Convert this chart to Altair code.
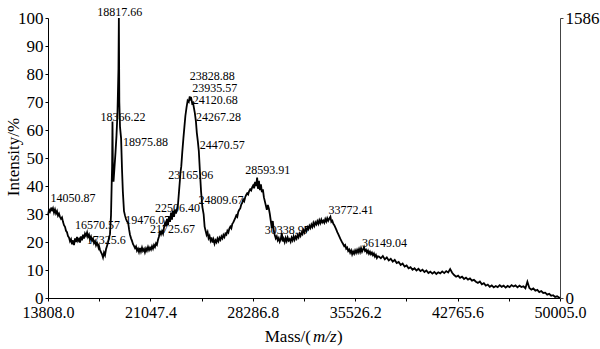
import altair as alt
import pandas as pd

# Mass spectrum: m/z and relative intensity (%)
mass = [
    13808, 13879, 13949, 14050.87, 14091, 14162, 14232, 14303, 14374, 14444,
    14515, 14586, 14656, 14727, 14798, 14868, 14939, 15010, 15081, 15151,
    15222, 15293, 15363, 15434, 15505, 15575, 15646, 15717, 15788, 15858,
    15929, 16000, 16070, 16141, 16212, 16282, 16353, 16424, 16495, 16570.57,
    16636, 16707, 16777, 16848, 16919, 16989, 17060, 17131, 17202, 17272,
    17325.6, 17380, 17414, 17484, 17555, 17626, 17696, 17767, 17838, 17909,
    17979, 18050, 18121, 18191, 18262, 18310, 18340, 18366.22, 18400, 18440,
    18500, 18580, 18650, 18720, 18790, 18817.66, 18850, 18900, 18975.88, 19040,
    19100, 19181, 19250, 19323, 19400, 19476.07, 19540, 19605, 19680, 19747,
    19820, 19888, 19960, 20030, 20100, 20171, 20240, 20312, 20380, 20454,
    20520, 20595, 20660, 20737, 20800, 20878, 20950, 21019, 21090, 21161,
    21230, 21302, 21370, 21444, 21510, 21585, 21650, 21725.67, 21800, 21868,
    21940, 22009, 22080, 22151, 22220, 22292, 22360, 22434, 22506.4, 22575,
    22640, 22716, 22790, 22858, 22930, 22999, 23070, 23140, 23165.96, 23230,
    23300, 23380, 23450, 23520, 23600, 23680, 23760, 23828.88, 23880, 23935.57,
    24000, 24060, 24120.68, 24190, 24267.28, 24330, 24400, 24470.57, 24550, 24630,
    24720, 24809.67, 24880, 24950, 25020, 25090, 25160, 25230, 25300, 25370,
    25440, 25510, 25580, 25650, 25720, 25790, 25860, 25930, 26000, 26070,
    26140, 26210, 26280, 26350, 26420, 26490, 26560, 26630, 26700, 26770,
    26840, 26910, 26980, 27050, 27120, 27190, 27260, 27330, 27400, 27470,
    27540, 27610, 27680, 27750, 27820, 27890, 27960, 28030, 28100, 28170,
    28240, 28310, 28380, 28450, 28520, 28593.91, 28650, 28720, 28790, 28860,
    28930, 29000, 29070, 29140, 29210, 29280, 29350, 29420, 29490, 29560,
    29630, 29700, 29770, 29840, 29910, 29980, 30050, 30120, 30190, 30260,
    30338.97, 30400, 30470, 30540, 30610, 30680, 30750, 30820, 30890, 30960,
    31030, 31100, 31170, 31240, 31310, 31380, 31450, 31520, 31590, 31660,
    31730, 31800, 31870, 31940, 32010, 32080, 32150, 32220, 32290, 32360,
    32430, 32500, 32570, 32640, 32710, 32780, 32850, 32920, 32990, 33060,
    33130, 33200, 33270, 33340, 33410, 33480, 33550, 33620, 33700, 33772.41,
    33840, 33910, 33980, 34050, 34120, 34190, 34260, 34330, 34400, 34470,
    34540, 34610, 34680, 34750, 34820, 34890, 34960, 35030, 35100, 35170,
    35240, 35310, 35380, 35450, 35520, 35590, 35660, 35730, 35800, 35870,
    35940, 36010, 36080, 36149.04, 36220, 36290, 36360, 36430, 36500, 36570,
    36640, 36710, 36780, 36850, 36920, 36990, 37060, 37130, 37200, 37340,
    37480, 37620, 37760, 37900, 38040, 38180, 38320, 38460, 38600, 38740,
    38880, 39020, 39160, 39300, 39440, 39580, 39720, 39860, 40000, 40140,
    40280, 40420, 40560, 40700, 40840, 40980, 41120, 41260, 41400, 41540,
    41680, 41820, 41960, 42100, 42240, 42380, 42520, 42660, 42800, 42940,
    43080, 43220, 43360, 43500, 43640, 43780, 43920, 44060, 44200, 44340,
    44480, 44620, 44760, 44900, 45040, 45180, 45320, 45460, 45600, 45740,
    45880, 46020, 46160, 46300, 46440, 46580, 46720, 46860, 47000, 47140,
    47280, 47420, 47560, 47700, 47840, 47980, 48120, 48260, 48400, 48540,
    48680, 48820, 48960, 49100, 49240, 49380, 49520, 49660, 49800, 49940,
    50005,
]

intensity = [
    29.5, 31.5, 30.8, 32.3, 31.0, 32.0, 30.5, 31.6, 30.2, 31.0,
    29.4, 30.1, 29.0, 28.3, 28.8, 27.2, 26.0, 25.4, 24.0, 23.5,
    22.1, 21.6, 20.3, 21.0, 19.2, 20.6, 18.9, 21.3, 20.0, 21.8,
    20.4, 21.1, 19.8, 22.0, 20.6, 22.6, 21.2, 23.0, 22.2, 23.4,
    21.8, 22.6, 21.0, 21.9, 20.5, 21.2, 19.6, 20.3, 18.8, 19.7,
    19.0, 18.0, 18.6, 17.2, 16.4, 15.6, 14.5, 16.2, 15.3, 17.4,
    18.6, 19.8, 21.5, 22.8, 29.5, 40.5, 47.0, 63.0, 44.0, 41.5,
    46.0, 52.0, 58.0, 66.0, 82.0, 100.0, 70.0, 61.0, 57.0, 46.0,
    38.0, 31.0, 29.5, 28.2, 27.3, 26.8, 24.5, 22.6, 21.3, 20.4,
    19.2, 18.6, 17.8, 18.4, 16.9, 17.6, 16.4, 17.9, 16.6, 18.0,
    16.8, 17.5, 16.3, 17.7, 16.9, 18.2, 17.1, 18.0, 17.3, 18.5,
    17.6, 18.9, 18.2, 19.5, 19.0, 20.8, 21.9, 24.0, 22.8, 23.9,
    23.0, 25.2, 26.8, 25.6, 28.3, 26.0, 29.1, 27.2, 30.5, 28.0,
    31.2, 29.0, 31.6, 30.2, 31.8, 33.5, 38.0, 42.5, 44.5, 47.0,
    52.0, 57.0, 61.0, 65.0, 68.0, 70.5, 70.0, 72.0, 71.0, 71.3,
    69.5, 69.8, 68.0, 66.0, 63.0, 59.0, 56.0, 52.5, 45.0, 38.0,
    32.5, 30.0, 25.5, 24.0, 22.6, 23.5, 21.4, 22.2, 20.5, 21.6,
    19.8, 20.9, 19.4, 20.6, 19.9, 21.2, 20.3, 21.5, 20.8, 22.0,
    21.3, 22.5, 21.8, 23.0, 22.6, 24.0, 23.4, 24.8, 25.5, 24.9,
    26.5, 27.0, 27.8, 28.6, 29.5, 29.0, 30.8, 31.5, 32.0, 33.4,
    34.0, 35.2, 34.6, 36.0, 36.8, 37.4, 37.0, 38.2, 38.8, 38.4,
    39.5, 40.2, 39.2, 41.5, 40.0, 43.0, 39.0, 41.8, 38.5, 40.6,
    37.8, 38.8, 36.0, 34.5, 33.0, 31.5, 33.2, 32.0, 30.0, 27.5,
    25.0, 27.5, 24.0, 22.5, 21.3, 22.0, 20.6, 21.4, 20.1, 21.0,
    23.2, 20.2, 21.2, 20.0, 21.4, 20.3, 21.6, 20.5, 21.0, 20.1,
    21.5, 20.6, 22.0, 20.8, 21.9, 21.2, 22.5, 21.7, 23.0, 22.2,
    23.4, 22.8, 24.2, 23.4, 24.8, 24.0, 25.3, 24.6, 25.8, 25.0,
    26.2, 25.4, 26.8, 25.8, 27.0, 26.3, 27.4, 26.5, 27.8, 26.8,
    28.0, 27.0, 27.6, 26.9, 28.2, 27.3, 28.5, 27.6, 28.4, 29.0,
    27.2, 27.6, 26.5, 26.0, 25.2, 24.4, 23.5, 22.8, 22.0, 21.2,
    20.5, 19.8, 19.2, 18.5, 18.9, 17.6, 18.0, 16.8, 17.3, 16.2,
    17.0, 15.6, 16.6, 15.8, 17.0, 16.1, 17.2, 16.3, 17.5, 16.4,
    17.8, 16.6, 17.4, 18.2, 16.8, 17.2, 16.2, 16.9, 15.8, 16.5,
    15.6, 16.2, 15.3, 15.9, 14.8, 15.4, 14.3, 14.9, 14.8, 14.2,
    15.0, 13.8, 14.5, 13.4, 14.0, 13.0, 13.6, 12.5, 12.9, 11.8,
    12.3, 11.2, 11.6, 10.6, 11.0, 10.1, 10.6, 9.8, 10.4, 9.6,
    10.1, 9.3, 9.8, 8.9, 9.4, 8.7, 9.3, 8.6, 9.2, 8.8,
    9.5, 8.9, 9.6, 9.1, 10.3, 9.0, 8.2, 7.6, 8.0, 7.2,
    7.6, 6.8, 7.3, 6.6, 7.0, 6.2, 6.5, 5.8, 5.4, 5.9,
    4.9, 5.3, 4.4, 4.8, 4.0, 4.5, 3.8, 4.3, 3.9, 4.6,
    4.0, 4.4, 3.7, 4.3, 3.9, 4.6, 4.1, 4.5, 3.8, 4.4,
    3.9, 4.2, 3.5, 5.8, 3.6, 3.0, 3.4, 2.6, 2.9, 2.1,
    2.5, 1.8, 1.9, 1.2, 1.5, 0.8, 1.0, 0.4, 0.6, 0.2,
    0.0,
]

# Annotated peaks (m/z as printed)
peak_labels = [
    "14050.87", "16570.57", "17325.6", "18366.22", "18817.66",
    "18975.88", "19476.07", "21725.67", "22506.40", "23165.96",
    "23828.88", "23935.57", "24120.68", "24267.28", "24470.57",
    "24809.67", "28593.91", "30338.97", "33772.41", "36149.04",
]
# Text offsets (px) from each labelled point
label_dx = [-1, -12, -11, -12, 1, 2, -3, -10, -16, -12,
            0, 1, -1, 0, 1, -5, -12, -17, -2, -2]
label_dy = [-10, -7, -5, -5, -6, 4, -3, -2, -5, 2,
            -20, -10, -8, -5, -6, -14, -8, -3, -7, -4]
label_align = ["left"] * 4 + ["center"] + ["left"] * 15

x_major = [13808.0, 21047.4, 28286.8, 35526.2, 42765.6, 50005.0]
x_minor = [17427.7, 24667.1, 31906.5, 39145.9, 46385.3]
y_ticks = [0, 10, 20, 30, 40, 50, 60, 70, 80, 90, 100]
counts = [0, 1586]

FONT = "Liberation Serif"

spec = pd.DataFrame({"mass": mass, "intensity": intensity})
height_at = dict(zip(mass, intensity))

x_scale = alt.Scale(domain=[13808.0, 50005.0], nice=False, zero=False)
y_scale = alt.Scale(domain=[0, 100], nice=False)

major_js = "[" + ",".join(str(v) for v in x_major) + "]"
x_axis = alt.Axis(
    values=sorted(x_major + x_minor),
    labelExpr=f"indexof({major_js}, datum.value) >= 0 ? format(datum.value, '.1f') : ''",
    title=None, grid=False, tickSize=3, labelPadding=3,
    labelFontSize=16, labelFlush=False,
)
x_enc = alt.X("mass:Q", scale=x_scale, axis=x_axis)

line = alt.Chart(spec).mark_line(color="black", strokeWidth=1.8, interpolate="linear").encode(
    x=x_enc,
    y=alt.Y("intensity:Q", scale=y_scale,
            axis=alt.Axis(values=y_ticks, title=None, grid=False, tickSize=3,
                          labelPadding=2, labelFontSize=17, format="d")),
)

right_axis = alt.Chart(pd.DataFrame({"counts": counts})).mark_point(opacity=0).encode(
    y=alt.Y("counts:Q", scale=alt.Scale(domain=[0, 1586], nice=False),
            axis=alt.Axis(orient="right", values=counts, title=None, grid=False,
                          tickSize=3, labelPadding=2, labelFontSize=17, format="d",
                          domainColor="#444444", tickColor="#444444")),
)

layers = [line, right_axis]

for s, dx, dy, al in zip(peak_labels, label_dx, label_dy, label_align):
    m = float(s)
    row = pd.DataFrame({"mass": [m], "intensity": [height_at[m]], "label": [s]})
    layers.append(
        alt.Chart(row).mark_text(
            align=al, baseline="middle", dx=dx, dy=dy,
            font=FONT, fontSize=12, color="black",
        ).encode(
            x=x_enc,
            y=alt.Y("intensity:Q", scale=y_scale, axis=None),
            text="label:N",
        )
    )

# Axis titles
title_df = pd.DataFrame({"t": [0]})
layers.append(
    alt.Chart(title_df).mark_text(
        angle=270, align="center", baseline="middle", font=FONT, fontSize=17, color="black"
    ).encode(x=alt.value(-34), y=alt.value(139), text=alt.value("Intensity/%"))
)
layers.append(
    alt.Chart(title_df).mark_text(
        align="right", baseline="middle", font=FONT, fontSize=17, color="black"
    ).encode(x=alt.value(263), y=alt.value(319), text=alt.value("Mass/("))
)
layers.append(
    alt.Chart(title_df).mark_text(
        align="left", baseline="middle", font=FONT, fontSize=17, fontStyle="italic", color="black"
    ).encode(x=alt.value(265), y=alt.value(319), text=alt.value("m/z"))
)
layers.append(
    alt.Chart(title_df).mark_text(
        align="left", baseline="middle", font=FONT, fontSize=17, color="black"
    ).encode(x=alt.value(289), y=alt.value(319), text=alt.value(")"))
)

chart = (
    alt.layer(*layers)
    .resolve_scale(y="independent")
    .properties(
        width=512, height=280,
        autosize=alt.AutoSizeParams(type="none"),
        padding={"left": 48, "top": 18, "right": 40, "bottom": 51},
        background="white",
    )
    .configure_view(stroke=None)
    .configure_axis(
        labelFont=FONT, titleFont=FONT, labelColor="black",
        domainColor="black", tickColor="black", domainWidth=1, tickWidth=1,
    )
)

chart.save("out.html", embed_options={"renderer": "svg", "actions": False})
